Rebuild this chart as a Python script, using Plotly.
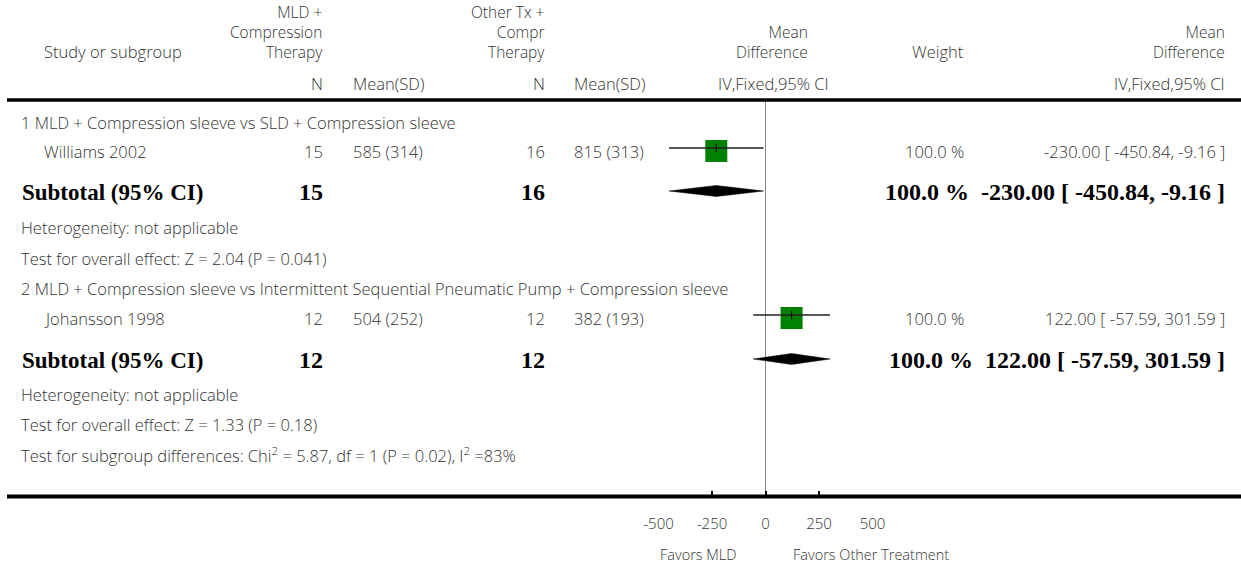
import plotly.graph_objects as go

# ---------------- data ----------------
studies = ["Williams 2002", "Johansson 1998"]
n_mld = [15, 12]
mean_sd_mld = ["585 (314)", "504 (252)"]
n_other = [16, 12]
mean_sd_other = ["815 (313)", "382 (193)"]
md = [-230.00, 122.00]
ci_lo = [-450.84, -57.59]
ci_hi = [-9.16, 301.59]
weights = ["100.0 %", "100.0 %"]
md_text = ["-230.00 [ -450.84, -9.16 ]", "122.00 [ -57.59, 301.59 ]"]

sub_md = [-230.00, 122.00]
sub_lo = [-450.84, -57.59]
sub_hi = [-9.16, 301.59]
sub_n_mld = [15, 12]
sub_n_other = [16, 12]
sub_weight = ["100.0 %", "100.0 %"]
sub_md_text = ["-230.00 [ -450.84, -9.16\u00a0]", "122.00 [ -57.59, 301.59\u00a0]"]

subgroups = ["1 MLD + Compression sleeve vs SLD + Compression sleeve",
             "2 MLD + Compression sleeve vs Intermittent Sequential Pneumatic Pump + Compression sleeve"]
heterogeneity = ["Heterogeneity: not applicable", "Heterogeneity: not applicable"]
overall = ["Test for overall effect: Z = 2.04 (P = 0.041)",
           "Test for overall effect: Z = 1.33 (P = 0.18)"]
subgroup_diff = "Test for subgroup differences: Chi<sup>2</sup> = 5.87, df = 1 (P = 0.02), I<sup>2</sup> =83%"

header_mld = ["MLD +", "Compression", "Therapy"]
header_other = ["Other Tx +", "Compr", "Therapy"]
header_md = ["Mean", "Difference"]

tick_vals = [-500, -250, 0, 250, 500]
tick_text = ["-500", "-250", "0", "250", "500"]
favors_left = "Favors MLD"
favors_right = "Favors Other Treatment"

# ---------------- layout constants ----------------
W, H = 1241, 567
SANS = "Open Sans"
SERIF = "Liberation Serif"
TXT = "#333333"
FS = 16.5
HFS = 15.5
BFS = 23
NFS = 24

ax_left_px, ax_right_px = 658.5, 872.5
axis_y = 496.5

y_sub_title = [122, 288]
y_study = [151, 318]
y_total = [192, 360]
y_het = [227, 394]
y_overall = [258, 424]
y_diff = 455

col_n1 = 324
col_m1 = 352
col_n2 = 546
col_m2 = 573
col_w = 965
col_md = 1226

fig = go.Figure()
ann = []


def px(x):
    return x / W


def add_text(x, y, text, anchor="left", bold=False, size=None, color=None,
             yanchor="middle"):
    ann.append(dict(
        x=px(x), y=y, xref="paper", yref="y", text=text, showarrow=False,
        xanchor=anchor, yanchor=yanchor, align=anchor,
        borderpad=0,
        font=dict(family=SERIF if bold else SANS,
                  size=size or (BFS if bold else FS),
                  color=color or ("black" if bold else TXT),
                  weight="bold" if bold else 300),
    ))


# header (stacked labels as single multi-line texts)
HB = 64  # bottom of stacked header blocks
add_text(43, 51, "Study or subgroup")
add_text(col_n1, HB, "<br>".join(header_mld), "right", size=HFS, yanchor="bottom")
add_text(col_n2, HB, "<br>".join(header_other), "right", size=HFS, yanchor="bottom")
add_text(809, HB, "<br>".join(header_md), "right", size=HFS, yanchor="bottom")
add_text(965, 51, "Weight", "right")
add_text(col_md, HB, "<br>".join(header_md), "right", size=HFS, yanchor="bottom")
add_text(col_n1, 83, "N", "right")
add_text(col_m1, 83, "Mean(SD)")
add_text(col_n2, 83, "N", "right")
add_text(col_m2, 83, "Mean(SD)")
add_text(830, 83, "IV,Fixed,95% CI", "right")
add_text(col_md, 83, "IV,Fixed,95% CI", "right")

for i in range(2):
    add_text(20, y_sub_title[i], subgroups[i])
    add_text(43, y_study[i], studies[i])
    add_text(col_n1, y_study[i], str(n_mld[i]), "right")
    add_text(col_m1, y_study[i], mean_sd_mld[i])
    add_text(col_n2, y_study[i], str(n_other[i]), "right")
    add_text(col_m2, y_study[i], mean_sd_other[i])
    add_text(col_w, y_study[i], weights[i], "right")
    add_text(col_md, y_study[i], md_text[i], "right")
    add_text(21, y_total[i], "Subtotal (95% CI)", bold=True)
    add_text(col_n1, y_total[i], str(sub_n_mld[i]), "right", bold=True, size=NFS)
    add_text(col_n2, y_total[i], str(sub_n_other[i]), "right", bold=True, size=NFS)
    add_text(col_md, y_total[i], sub_weight[i] + "\u00a0 " + sub_md_text[i],
             "right", bold=True, size=NFS)
    add_text(20, y_het[i], heterogeneity[i])
    add_text(20, y_overall[i], overall[i])
add_text(20, y_diff, subgroup_diff)

add_text(738, 554, favors_left, "right", size=14.5)
add_text(792, 554, favors_right, "left", size=14.5)

# ---------------- marks ----------------
fig.add_trace(go.Scatter(
    x=md, y=y_study, mode="markers",
    marker=dict(symbol="square", size=22, color="#008000", line=dict(width=0)),
    hoverinfo="skip", showlegend=False))
for i in range(2):
    fig.add_trace(go.Scatter(
        x=[ci_lo[i], ci_hi[i]], y=[y_study[i] - 3, y_study[i] - 3], mode="lines",
        line=dict(color="#222222", width=1.3), hoverinfo="skip", showlegend=False))
fig.add_trace(go.Scatter(
    x=md, y=[v - 3 for v in y_study], mode="markers",
    marker=dict(symbol="line-ns", size=6, line=dict(width=1, color="black")),
    hoverinfo="skip", showlegend=False))
for i in range(2):
    yc = y_total[i] - 1
    fig.add_trace(go.Scatter(
        x=[sub_lo[i], sub_md[i], sub_hi[i], sub_md[i], sub_lo[i]],
        y=[yc, yc - 5.5, yc, yc + 5.5, yc],
        mode="lines", fill="toself", fillcolor="black",
        line=dict(color="black", width=0.5), hoverinfo="skip", showlegend=False))

shapes = [
    dict(type="line", xref="paper", yref="y", x0=px(7), x1=1, y0=100, y1=100,
         line=dict(color="black", width=3.5)),
    dict(type="line", xref="paper", yref="y", x0=px(7), x1=1, y0=axis_y, y1=axis_y,
         line=dict(color="black", width=4)),
    dict(type="line", xref="x", yref="y", x0=0, x1=0, y0=101, y1=axis_y,
         line=dict(color="#888888", width=1), layer="below"),
]

fig.update_layout(
    width=W, height=H, autosize=False,
    margin=dict(l=0, r=0, t=0, b=0, pad=0, autoexpand=False),
    paper_bgcolor="white", plot_bgcolor="rgba(0,0,0,0)",
    showlegend=False, annotations=ann, shapes=shapes,
    xaxis=dict(domain=[px(ax_left_px), px(ax_right_px)], range=[-500, 500],
               anchor="free", position=1 - axis_y / H, automargin=False,
               tickmode="array", tickvals=tick_vals, ticktext=tick_text,
               ticks="inside", ticklen=6, tickwidth=2, tickcolor="black",
               showline=False, showgrid=False, zeroline=False,
               tickfont=dict(family=SANS, size=15, color=TXT, weight=300),
               ticklabelstandoff=16, fixedrange=True),
    yaxis=dict(domain=[0, 1], range=[H, 0], visible=False, fixedrange=True,
               automargin=False),
)

fig.write_html("out.html")
